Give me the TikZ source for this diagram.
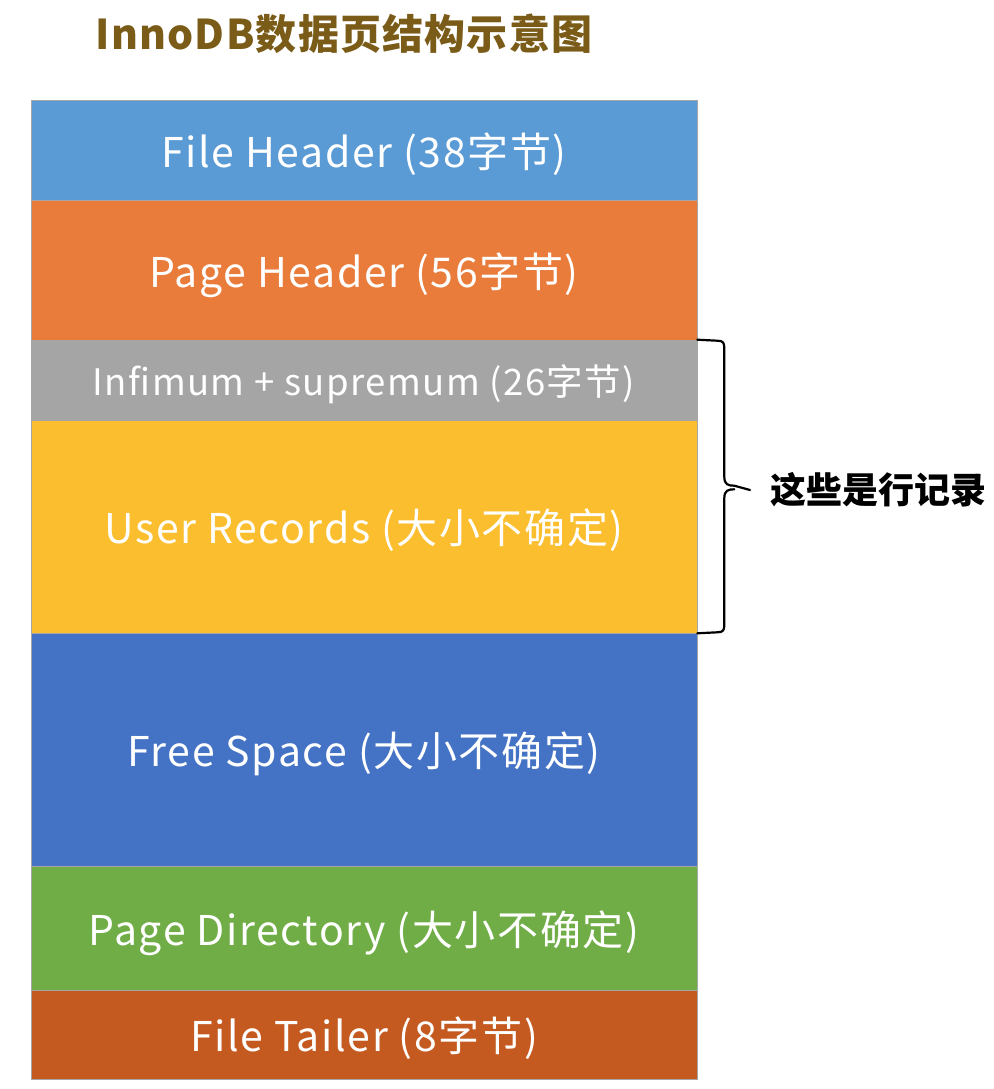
\documentclass[tikz,border=0pt]{standalone}
\usepackage{fontspec}
\setmainfont{Noto Sans CJK SC}
\definecolor{cFH}{HTML}{5B9BD5}
\definecolor{cPH}{HTML}{E97C3B}
\definecolor{cIS}{HTML}{A5A5A5}
\definecolor{cUR}{HTML}{FBBE2E}
\definecolor{cFS}{HTML}{4472C4}
\definecolor{cPD}{HTML}{70AD47}
\definecolor{cFT}{HTML}{C45A1F}
\definecolor{cTitle}{HTML}{7A5C18}
\begin{document}
\begin{tikzpicture}[x=1pt,y=-1pt,
  seg/.style={draw=black!35, line width=0.6pt, minimum width=666pt, inner sep=0pt, text depth=0pt,
    text=white, font=\fontsize{41}{44}\selectfont\addfontfeatures{LetterSpace=4}, anchor=center},
  bracket/.style={line width=2.2pt, line cap=round, line join=round}]
\useasboundingbox (0,0) rectangle (993,1089);
\node[font=\bfseries\fontsize{41}{44}\selectfont\addfontfeatures{LetterSpace=3}, text=cTitle] (title) at (344,34) {InnoDB数据页结构示意图};
\node[seg, fill=cFH, minimum height=101pt] (fh) at (364,150.5) {File Header (38字节)};
\node[seg, fill=cPH, minimum height=140pt] (ph) at (364,270) {Page Header (56字节)};
\node[seg, fill=cIS, minimum height=80pt, font=\fontsize{36.5}{40}\selectfont\addfontfeatures{LetterSpace=4}] (is) at (364,380) {Infimum + supremum (26字节)};
\node[seg, fill=cUR, minimum height=213pt] (ur) at (364,526.5) {User Records (大小不确定)};
\node[seg, fill=cFS, minimum height=233pt] (fs) at (364,749.5) {Free Space (大小不确定)};
\node[seg, fill=cPD, minimum height=124pt] (pd) at (364,928) {Page Directory (大小不确定)};
\node[seg, fill=cFT, minimum height=89pt] (ft) at (364,1034.5) {File Tailer (8字节)};
\node[font=\bfseries\fontsize{36}{40}\selectfont, anchor=west] (lbl) at (767,490) {这些是行记录};
\coordinate (btop) at (is.north east);
\coordinate (bbot) at (ur.south east);
\draw[bracket] (btop) -- ++(20,1) .. controls +(6,0) and +(0,-6) .. ++(7,8)
  -- ++(0,128) .. controls +(0,8) and +(-6,0) .. ++(10,9) -- (lbl.west -| 750,0)
  (bbot) -- ++(20,-1) .. controls +(6,0) and +(0,6) .. ++(7,-8)
  -- ++(0,-126) .. controls +(0,-8) and +(-6,0) .. ++(10,-9);
\end{tikzpicture}
\end{document}
